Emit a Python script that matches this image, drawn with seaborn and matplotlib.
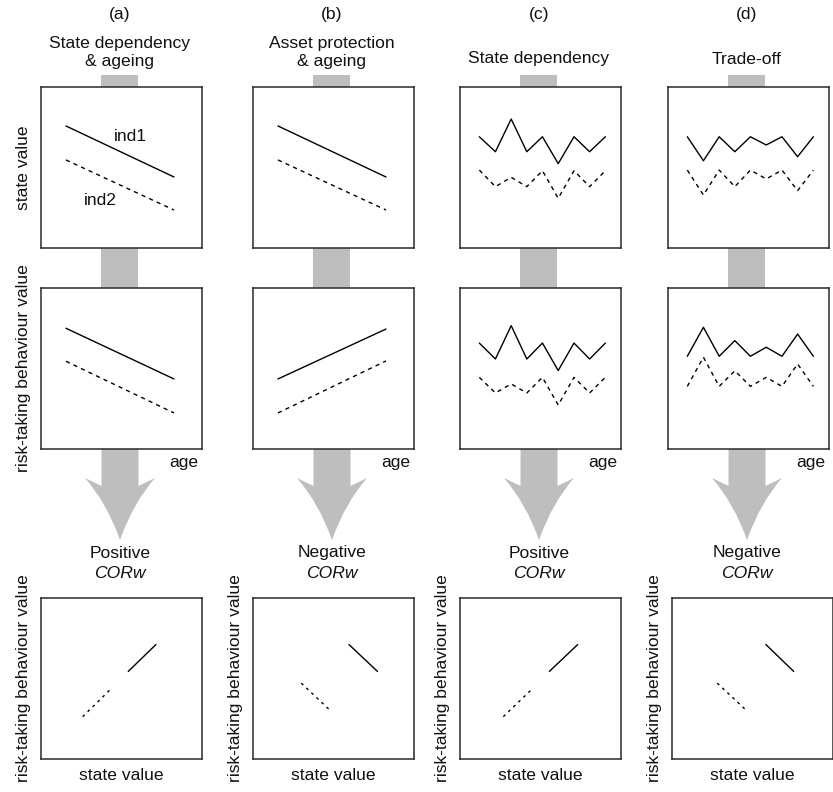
import matplotlib
matplotlib.use("Agg")
import pandas as pd
import seaborn as sns
import matplotlib.pyplot as plt
from matplotlib.path import Path
from matplotlib.patches import PathPatch, Rectangle

sns.set_theme(style="white")
plt.rcParams["font.family"] = ["Liberation Sans", "DejaVu Sans"]
plt.rcParams["text.color"] = "#111111"

W, H = 833, 792
FS = 12.6
GREY = "#bebebe"
EDGE = "#2a2a2a"

LETTERS = ["(a)", "(b)", "(c)", "(d)"]
TITLES = ["State dependency\n& ageing", "Asset protection\n& ageing",
          "State dependency", "Trade-off"]
CORW_SIGN = ["Positive", "Negative", "Positive", "Negative"]

# values in panel units (0..1)
AGE_LIN = [0.155, 0.826]
AGE_ZIG = [0.12, 0.22, 0.318, 0.415, 0.512, 0.61, 0.708, 0.805, 0.903]

A_STATE_IND1 = [0.758, 0.441]
A_STATE_IND2 = [0.547, 0.236]
A_RISK_IND1 = [0.750, 0.435]
A_RISK_IND2 = [0.545, 0.224]

B_STATE_IND1 = [0.758, 0.441]
B_STATE_IND2 = [0.547, 0.236]
B_RISK_IND1 = [0.435, 0.745]
B_RISK_IND2 = [0.224, 0.547]

C_STATE_IND1 = [0.691, 0.598, 0.801, 0.598, 0.691, 0.524, 0.691, 0.598, 0.691]
C_STATE_IND2 = [0.484, 0.381, 0.439, 0.381, 0.480, 0.309, 0.480, 0.381, 0.480]
C_RISK_IND1 = [0.658, 0.559, 0.766, 0.559, 0.658, 0.487, 0.658, 0.559, 0.658]
C_RISK_IND2 = [0.445, 0.348, 0.404, 0.348, 0.445, 0.273, 0.445, 0.348, 0.445]

D_STATE_IND1 = [0.691, 0.542, 0.691, 0.598, 0.691, 0.640, 0.691, 0.567, 0.691]
D_STATE_IND2 = [0.484, 0.329, 0.484, 0.381, 0.484, 0.429, 0.484, 0.356, 0.484]
D_RISK_IND1 = [0.576, 0.756, 0.576, 0.673, 0.576, 0.632, 0.576, 0.714, 0.576]
D_RISK_IND2 = [0.389, 0.570, 0.389, 0.486, 0.389, 0.445, 0.389, 0.528, 0.389]

# bottom row: state value (x) vs risk-taking (y), per individual
COR_X_IND1 = [[0.542, 0.714], [0.596, 0.773], [0.555, 0.731], [0.583, 0.756]]
COR_Y_IND1 = [[0.544, 0.711], [0.711, 0.544], [0.544, 0.711], [0.711, 0.544]]
COR_X_IND2 = [[0.259, 0.435], [0.300, 0.481], [0.269, 0.449], [0.281, 0.464]]
COR_Y_IND2 = [[0.263, 0.436], [0.471, 0.300], [0.263, 0.436], [0.471, 0.300]]

STATE = [(A_STATE_IND1, A_STATE_IND2), (B_STATE_IND1, B_STATE_IND2),
         (C_STATE_IND1, C_STATE_IND2), (D_STATE_IND1, D_STATE_IND2)]
RISK = [(A_RISK_IND1, A_RISK_IND2), (B_RISK_IND1, B_RISK_IND2),
        (C_RISK_IND1, C_RISK_IND2), (D_RISK_IND1, D_RISK_IND2)]
AGES = [AGE_LIN, AGE_LIN, AGE_ZIG, AGE_ZIG]

# layout in pixels
COL_LEFT = [41, 253, 460, 668]
BOT_LEFT = [41, 253, 460, 672]
ROW_TOP = [87, 288, 598]
BOX = 161

fig = plt.figure(figsize=(W / 100, H / 100), dpi=100)
bg = fig.add_axes([0, 0, 1, 1], zorder=0)
bg.set_xlim(0, W)
bg.set_ylim(H, 0)
bg.axis("off")


def panel(left, top):
    ax = fig.add_axes([left / W, 1 - (top + BOX) / H, BOX / W, BOX / H], zorder=2)
    ax.set_xlim(0, 1)
    ax.set_ylim(0, 1)
    ax.set_xticks([])
    ax.set_yticks([])
    ax.set_facecolor("white")
    for s in ax.spines.values():
        s.set_color(EDGE)
        s.set_linewidth(1.1)
    return ax


def lines(ax, x1, y1, x2, y2, dash=(3, 3)):
    df = pd.concat([
        pd.DataFrame({"x": x1, "y": y1, "ind": "ind1"}),
        pd.DataFrame({"x": x2, "y": y2, "ind": "ind2"}),
    ])
    sns.lineplot(data=df, x="x", y="y", style="ind", dashes={"ind1": "", "ind2": dash},
                 color="black", lw=1.0, sort=False, estimator=None, legend=False, ax=ax)
    ax.set_xlabel("")
    ax.set_ylabel("")


def arrow(cx):
    hw = 18.5
    verts = [(cx - hw, 440), (cx - hw, 486), (cx - 35, 478), (cx - 13, 503), (cx, 540),
             (cx + 13, 503), (cx + 35, 478), (cx + hw, 486), (cx + hw, 440), (cx - hw, 440)]
    codes = [Path.MOVETO, Path.LINETO, Path.LINETO, Path.CURVE3, Path.CURVE3,
             Path.CURVE3, Path.CURVE3, Path.LINETO, Path.LINETO, Path.CLOSEPOLY]
    bg.add_patch(PathPatch(Path(verts, codes), fc=GREY, ec="none"))


for i in range(4):
    left = COL_LEFT[i]
    cx = left + BOX / 2 - 1.5
    # grey connectors
    bg.add_patch(Rectangle((cx - 18.5, 75), 37, 20, fc=GREY, ec="none"))
    bg.add_patch(Rectangle((cx - 18.5, ROW_TOP[0] + BOX - 5), 37, 50, fc=GREY, ec="none"))
    arrow(cx)

    bg.text(cx, 15, LETTERS[i], ha="center", va="center", fontsize=FS)
    if "\n" in TITLES[i]:
        bg.text(cx, 52.5, TITLES[i], ha="center", va="center", fontsize=FS, linespacing=1.2)
    else:
        bg.text(cx, 59, TITLES[i], ha="center", va="center", fontsize=FS)

    ax = panel(left, ROW_TOP[0])
    lines(ax, AGES[i], STATE[i][0], AGES[i], STATE[i][1])
    if i == 0:
        ax.text(0.553, 0.69, "ind1", ha="center", va="center", fontsize=FS, transform=ax.transAxes)
        ax.text(0.366, 0.298, "ind2", ha="center", va="center", fontsize=FS, transform=ax.transAxes)

    ax = panel(left, ROW_TOP[1])
    lines(ax, AGES[i], RISK[i][0], AGES[i], RISK[i][1])
    bg.text(left + BOX - 4, 463, "age", ha="right", va="center", fontsize=FS)

    bg.text(cx, 553, CORW_SIGN[i], ha="center", va="center", fontsize=FS)
    bg.text(cx, 574, "CORw", ha="center", va="center", fontsize=FS, style="italic")

    bl = BOT_LEFT[i]
    ax = panel(bl, ROW_TOP[2])
    lines(ax, COR_X_IND1[i], COR_Y_IND1[i], COR_X_IND2[i], COR_Y_IND2[i], dash=(2, 3))
    bg.text(bl + BOX / 2, 775, "state value", ha="center", va="center", fontsize=FS)
    bg.text(bl - 17, ROW_TOP[2] + BOX / 2, "risk-taking behaviour value", ha="center",
            va="center", rotation=90, fontsize=FS)

bg.text(24, ROW_TOP[0] + BOX / 2, "state value", ha="center", va="center", rotation=90, fontsize=FS)
bg.text(24, ROW_TOP[1] + BOX / 2, "risk-taking behaviour value", ha="center", va="center",
        rotation=90, fontsize=FS)

fig.savefig("out.png", dpi=100, facecolor="white")
